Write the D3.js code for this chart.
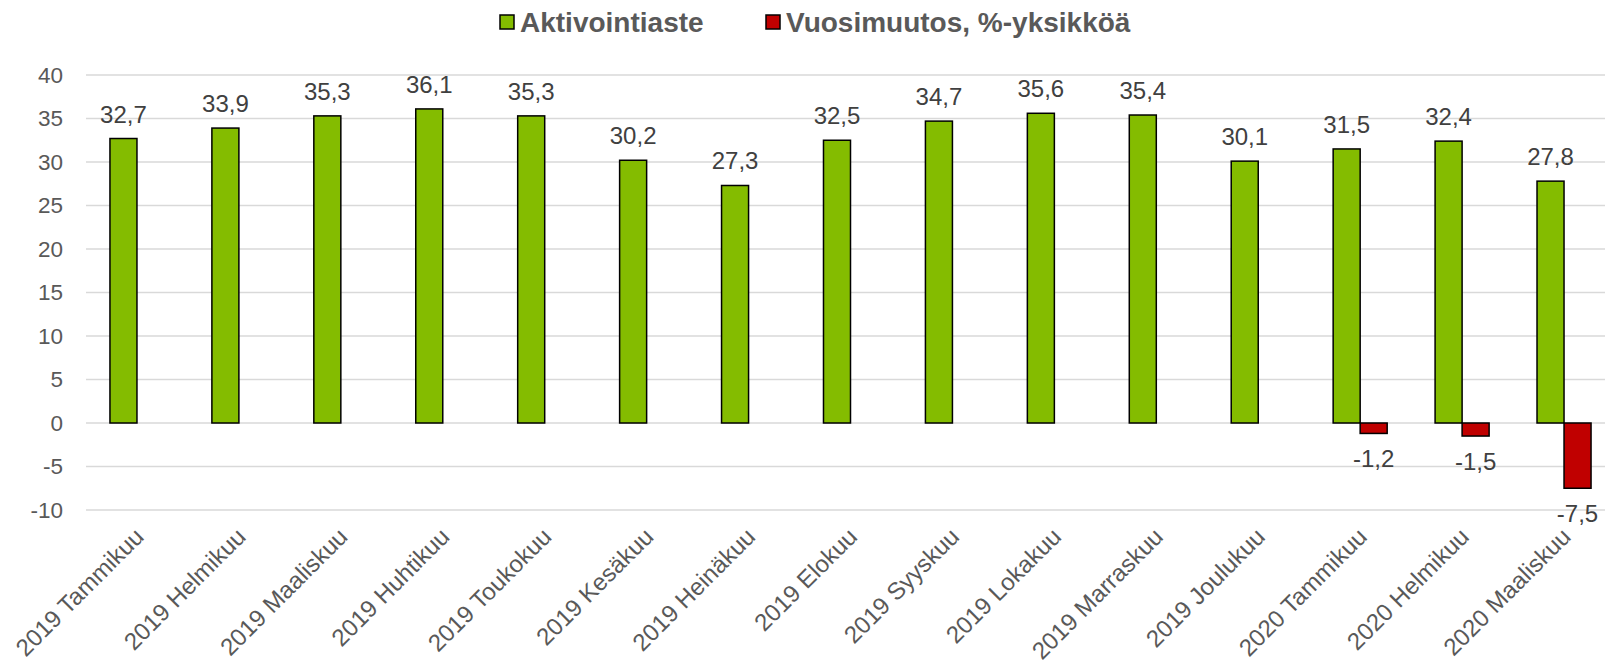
<!DOCTYPE html>
<html>
<head>
<meta charset="utf-8">
<script src="https://cdn.jsdelivr.net/npm/d3@7"></script>
<style>
  body { margin: 0; background: #fff; }
  svg { display: block; font-family: "Liberation Sans", Arial, sans-serif; }
</style>
</head>
<body>
<svg id="chart"></svg>
<script>
var WIDTH = 1605;
var HEIGHT = 663;

var CATEGORIES = ["2019 Tammikuu", "2019 Helmikuu", "2019 Maaliskuu", "2019 Huhtikuu",
  "2019 Toukokuu", "2019 Kesäkuu", "2019 Heinäkuu", "2019 Elokuu", "2019 Syyskuu",
  "2019 Lokakuu", "2019 Marraskuu", "2019 Joulukuu", "2020 Tammikuu", "2020 Helmikuu",
  "2020 Maaliskuu"];
var AKTIVOINTIASTE = [32.7, 33.9, 35.3, 36.1, 35.3, 30.2, 27.3, 32.5, 34.7, 35.6, 35.4, 30.1, 31.5, 32.4, 27.8];
var VUOSIMUUTOS = [null, null, null, null, null, null, null, null, null, null, null, null, -1.2, -1.5, -7.5];
var SERIES_NAMES = ["Aktivointiaste", "Vuosimuutos, %-yksikköä"];
var Y_TICKS = [-10, -5, 0, 5, 10, 15, 20, 25, 30, 35, 40];

var colors = ["#84bc00", "#c00000"];
var fmt = function(v) { return String(v).replace(".", ","); };

var svg = d3.select("#chart").attr("width", WIDTH).attr("height", HEIGHT);

var x = d3.scaleBand()
  .domain(CATEGORIES)
  .range([86, 1615])
  .paddingInner(0.47)
  .paddingOuter(0.235);

var x1 = d3.scaleBand()
  .domain([0, 1])
  .range([0, x.bandwidth()]);

var y = d3.scaleLinear().domain([-10, 40]).range([510, 75]);

// gridlines
svg.append("g").selectAll("line")
  .data(Y_TICKS)
  .enter().append("line")
  .attr("x1", 86).attr("x2", 1615)
  .attr("y1", d => y(d)).attr("y2", d => y(d))
  .attr("stroke", "#d9d9d9")
  .attr("stroke-width", 1.5);

// y axis labels
svg.append("g").selectAll("text")
  .data(Y_TICKS)
  .enter().append("text")
  .attr("x", 63)
  .attr("y", d => y(d))
  .attr("dy", "0.35em")
  .attr("text-anchor", "end")
  .attr("fill", "#595959")
  .style("font-size", "22.5px")
  .text(d => d);

var rows = CATEGORIES.map(function(c, i) {
  return { cat: c, vals: [AKTIVOINTIASTE[i], VUOSIMUUTOS[i]] };
});

var groups = svg.append("g").selectAll("g")
  .data(rows)
  .enter().append("g")
  .attr("transform", d => "translate(" + x(d.cat) + ",0)");

groups.selectAll("rect")
  .data(d => d.vals.map((v, k) => ({ v: v, k: k })).filter(e => e.v !== null))
  .enter().append("rect")
  .attr("x", d => x1(d.k))
  .attr("width", x1.bandwidth())
  .attr("y", d => y(Math.max(0, d.v)))
  .attr("height", d => Math.abs(y(d.v) - y(0)))
  .attr("fill", d => colors[d.k])
  .attr("stroke", "#000")
  .attr("stroke-width", 1.5);

groups.selectAll("text.val")
  .data(d => d.vals.map((v, k) => ({ v: v, k: k })).filter(e => e.v !== null))
  .enter().append("text")
  .attr("class", "val")
  .attr("x", d => x1(d.k) + x1.bandwidth() / 2)
  .attr("y", d => d.v >= 0 ? y(d.v) - 16 : y(d.v) + 34)
  .attr("text-anchor", "middle")
  .attr("fill", "#404040")
  .style("font-size", "24px")
  .text(d => fmt(d.v));

// x labels
svg.append("g").selectAll("text")
  .data(CATEGORIES)
  .enter().append("text")
  .attr("transform", d => "translate(" + (x(d) + x.bandwidth() / 2 - 4) + ",526) rotate(-45)")
  .attr("text-anchor", "end")
  .attr("dy", "0.72em")
  .attr("fill", "#595959")
  .style("font-size", "24px")
  .text(d => d);

// legend
var legend = svg.append("g");
var lx = [500, 766];
SERIES_NAMES.forEach(function(name, i) {
  legend.append("rect")
    .attr("x", lx[i]).attr("y", 15)
    .attr("width", 14).attr("height", 14)
    .attr("fill", colors[i])
    .attr("stroke", "#000").attr("stroke-width", 1.5);
  legend.append("text")
    .attr("x", lx[i] + 20).attr("y", 22)
    .attr("dy", "0.35em")
    .attr("fill", "#595959")
    .style("font-size", "28px")
    .style("font-weight", "bold")
    .text(name);
});
</script>
</body>
</html>
